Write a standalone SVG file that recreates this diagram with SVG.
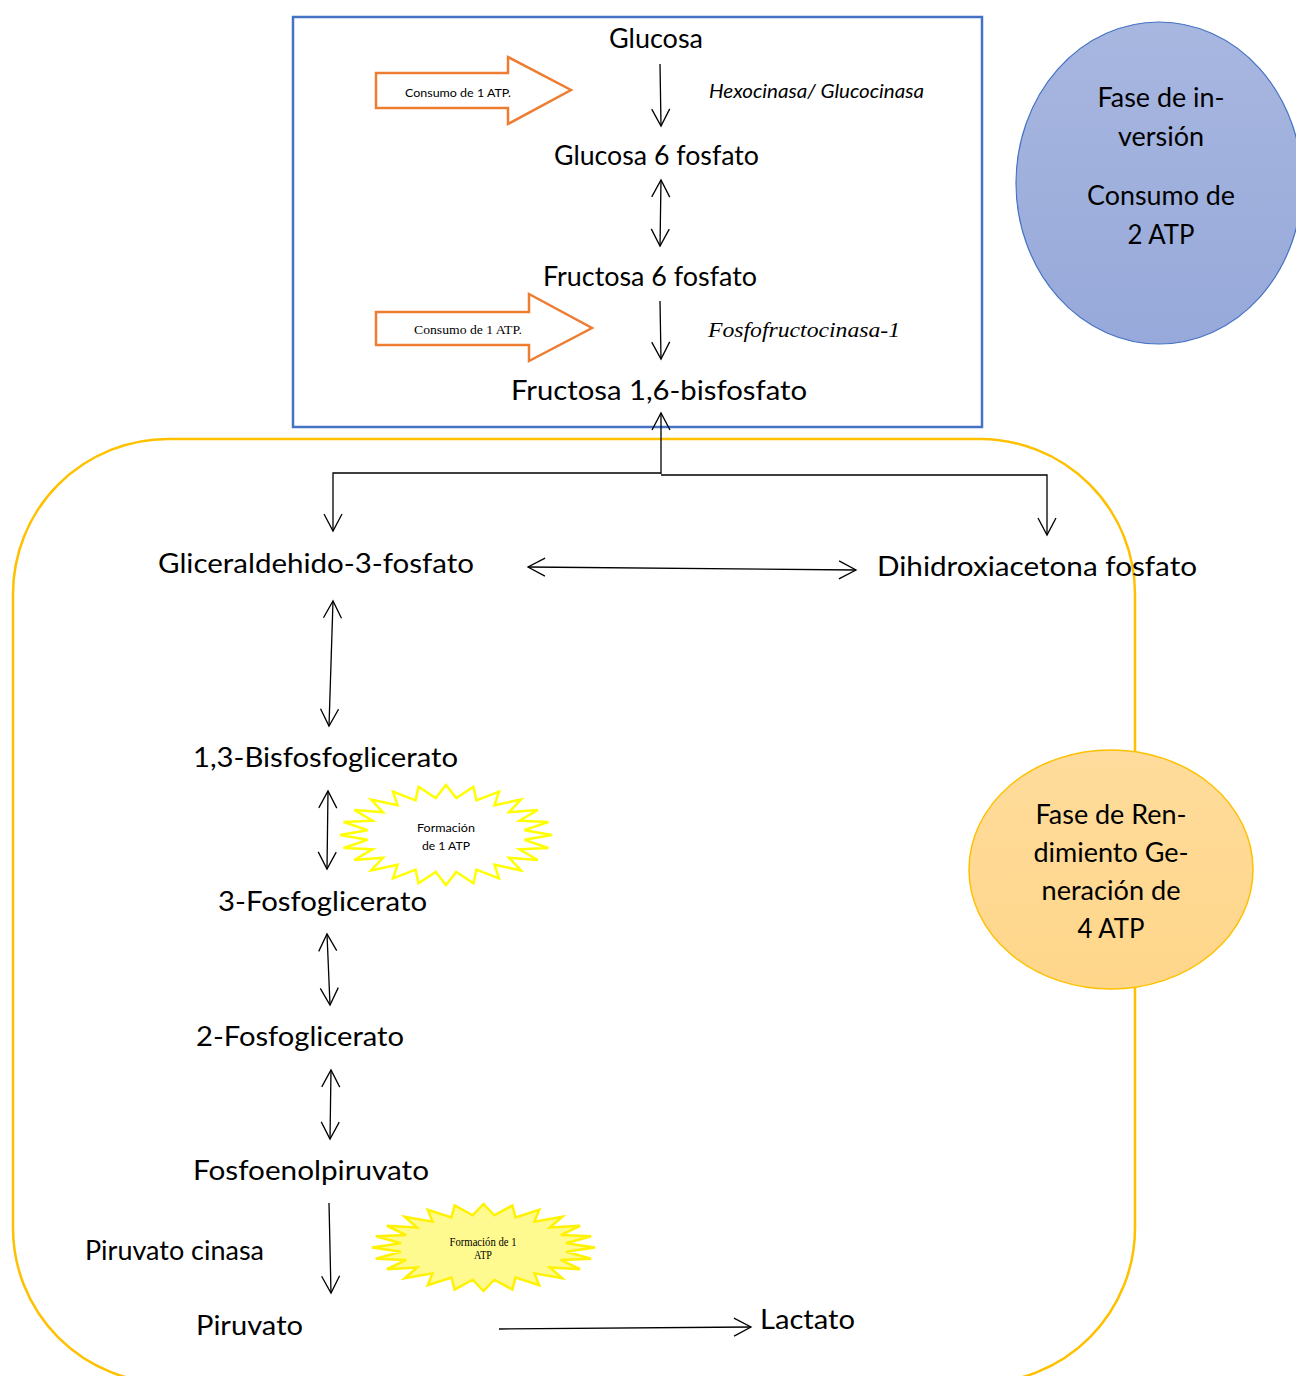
<svg xmlns="http://www.w3.org/2000/svg" xmlns:xlink="http://www.w3.org/1999/xlink" width="1296" height="1376" viewBox="0 0 1296 1376">
  <defs>
    <style>
      .lbl { font-family: Lato, "Open Sans", "Liberation Sans", sans-serif; font-size: 26px; fill: #000; text-anchor: middle; }
      .enz { font-family: Lato, "Liberation Sans", sans-serif; font-size: 19px; font-style: italic; fill: #000; }
      .enzs { font-family: "Liberation Serif", "DejaVu Serif", serif; font-size: 22px; font-style: italic; fill: #000; }
      .small { font-family: Lato, "Liberation Sans", sans-serif; font-size: 11.5px; fill: #000; text-anchor: middle; }
      .smalls { font-family: "Liberation Serif", "DejaVu Serif", serif; font-size: 12px; fill: #000; text-anchor: middle; }
      .conn { stroke: #000; stroke-width: 1.3; fill: none; }
      .block { fill: #fff; stroke: #ED7D31; stroke-width: 2.5; stroke-linejoin: miter; }
    </style>
    <marker id="head" markerUnits="userSpaceOnUse" markerWidth="24" markerHeight="24" viewBox="-20 -12 24 24" refX="0" refY="0" orient="auto-start-reverse">
      <path d="M-17,-9 L0,0 L-17,9" fill="none" stroke="#000" stroke-width="1.3"/>
    </marker>
    <!-- 24-point burst on a unit circle of radius 100; scaled per use -->
    <polygon id="burst" vector-effect="non-scaling-stroke" points="100,0 74,9.7 96.6,25.9 69.3,28.7 86.6,50 59.5,45.7 70.7,70.7 45.7,59.5 50,86.6 28.7,69.3 25.9,96.6 9.7,74 0,100 -9.7,74 -25.9,96.6 -28.7,69.3 -50,86.6 -45.7,59.5 -70.7,70.7 -59.5,45.7 -86.6,50 -69.3,28.7 -96.6,25.9 -74,9.7 -100,0 -74,-9.7 -96.6,-25.9 -69.3,-28.7 -86.6,-50 -59.5,-45.7 -70.7,-70.7 -45.7,-59.5 -50,-86.6 -28.7,-69.3 -25.9,-96.6 -9.7,-74 0,-100 9.7,-74 25.9,-96.6 28.7,-69.3 50,-86.6 45.7,-59.5 70.7,-70.7 59.5,-45.7 86.6,-50 69.3,-28.7 96.6,-25.9 74,-9.7"/>
  </defs>

  <rect width="1296" height="1376" fill="#fff"/>

  <!-- payoff phase frame -->
  <rect id="payoff-frame" x="13" y="439" width="1122" height="944" rx="155" ry="155" fill="none" stroke="#FFC000" stroke-width="2.5"/>

  <!-- investment phase frame -->
  <rect id="investment-frame" x="293" y="17" width="689" height="410" fill="none" stroke="#4472C4" stroke-width="2.5"/>

  <!-- phase summaries -->
  <g id="fase-inversion">
    <defs>
      <linearGradient id="blueFill" x1="0" y1="0" x2="0" y2="1">
        <stop offset="0" stop-color="#A8B7E0"/>
        <stop offset="1" stop-color="#97A9DA"/>
      </linearGradient>
      <linearGradient id="orangeFill" x1="0" y1="0" x2="0" y2="1">
        <stop offset="0" stop-color="#FFDC9C"/>
        <stop offset="1" stop-color="#FFD68A"/>
      </linearGradient>
    </defs>
    <ellipse cx="1159" cy="183" rx="143" ry="161" fill="url(#blueFill)" stroke="#4472C4" stroke-width="1.2"/>
    <text class="lbl" x="1161" y="107" textLength="127" lengthAdjust="spacingAndGlyphs">Fase de in-</text>
    <text class="lbl" x="1161" y="146" textLength="86" lengthAdjust="spacingAndGlyphs">versión</text>
    <text class="lbl" x="1161" y="205" textLength="148" lengthAdjust="spacingAndGlyphs">Consumo de</text>
    <text class="lbl" x="1161" y="244" textLength="67" lengthAdjust="spacingAndGlyphs">2 ATP</text>
  </g>

  <g id="fase-rendimiento">
    <ellipse cx="1111" cy="869.5" rx="142" ry="119.5" fill="url(#orangeFill)" stroke="#FFC000" stroke-width="1.5"/>
    <text class="lbl" x="1111" y="824" textLength="151" lengthAdjust="spacingAndGlyphs">Fase de Ren-</text>
    <text class="lbl" x="1111" y="862" textLength="155" lengthAdjust="spacingAndGlyphs">dimiento Ge-</text>
    <text class="lbl" x="1111" y="900" textLength="139" lengthAdjust="spacingAndGlyphs">neración de</text>
    <text class="lbl" x="1111" y="938" textLength="67" lengthAdjust="spacingAndGlyphs">4 ATP</text>
  </g>

  <!-- ATP consumption block arrows -->
  <g id="consumo-atp-1">
    <polygon class="block" points="376,73 508,73 508,57 571,90 508,124 508,108 376,108"/>
    <text class="small" x="458" y="97" textLength="106" lengthAdjust="spacingAndGlyphs">Consumo de 1 ATP.</text>
  </g>
  <g id="consumo-atp-2">
    <polygon class="block" points="376,312 529,312 529,294 592,328 529,361 529,345 376,345"/>
    <text class="smalls" x="468" y="334" textLength="108" lengthAdjust="spacingAndGlyphs">Consumo de 1 ATP.</text>
  </g>

  <!-- ATP formation bursts -->
  <g id="formacion-atp-1">
    <use xlink:href="#burst" href="#burst" transform="translate(446,835) scale(1.06,0.5)" fill="#fff" stroke="#FFFF00" stroke-width="2.5"/>
    <text class="small" x="446" y="832" font-size="11" textLength="58" lengthAdjust="spacingAndGlyphs">Formación</text>
    <text class="small" x="446" y="850" font-size="11" textLength="48" lengthAdjust="spacingAndGlyphs">de 1 ATP</text>
  </g>
  <g id="formacion-atp-2">
    <use xlink:href="#burst" href="#burst" transform="translate(483.5,1247.5) scale(1.115,0.435)" fill="#FFFA8F" stroke="#FFF200" stroke-width="2.5"/>
    <text class="smalls" x="483" y="1246" font-size="10" textLength="67" lengthAdjust="spacingAndGlyphs">Formación de 1</text>
    <text class="smalls" x="483" y="1259" font-size="10" textLength="18" lengthAdjust="spacingAndGlyphs">ATP</text>
  </g>

  <!-- connectors -->
  <g id="connectors" class="conn">
    <line x1="660" y1="64" x2="661" y2="126" marker-end="url(#head)"/>
    <line x1="661" y1="180" x2="660" y2="246" marker-start="url(#head)" marker-end="url(#head)"/>
    <line x1="660" y1="301" x2="661" y2="359" marker-end="url(#head)"/>
    <line x1="661" y1="474" x2="661" y2="413" marker-end="url(#head)"/>
    <polyline points="661,473 333,473 333,531" marker-end="url(#head)"/>
    <polyline points="661,475 1047,475 1047,535" marker-end="url(#head)"/>
    <line x1="528" y1="567" x2="856" y2="570" marker-start="url(#head)" marker-end="url(#head)"/>
    <line x1="333" y1="601" x2="329" y2="726" marker-start="url(#head)" marker-end="url(#head)"/>
    <line x1="328" y1="791" x2="327" y2="869" marker-start="url(#head)" marker-end="url(#head)"/>
    <line x1="327" y1="934" x2="330" y2="1005" marker-start="url(#head)" marker-end="url(#head)"/>
    <line x1="331" y1="1070" x2="330" y2="1139" marker-start="url(#head)" marker-end="url(#head)"/>
    <line x1="329" y1="1203" x2="331" y2="1293" marker-end="url(#head)"/>
    <line x1="499" y1="1329" x2="751" y2="1327" marker-end="url(#head)"/>
  </g>

  <!-- metabolites -->
  <g id="glucosa"><text class="lbl" x="656" y="48" textLength="94" lengthAdjust="spacingAndGlyphs">Glucosa</text></g>
  <g id="hexocinasa"><text class="enz" x="709" y="98" textLength="215" lengthAdjust="spacingAndGlyphs">Hexocinasa/ Glucocinasa</text></g>
  <g id="glucosa-6-fosfato"><text class="lbl" x="656.5" y="165" textLength="205" lengthAdjust="spacingAndGlyphs">Glucosa 6 fosfato</text></g>
  <g id="fructosa-6-fosfato"><text class="lbl" x="650" y="286" textLength="214" lengthAdjust="spacingAndGlyphs">Fructosa 6 fosfato</text></g>
  <g id="fosfofructocinasa"><text class="enzs" x="708" y="337" textLength="192" lengthAdjust="spacingAndGlyphs">Fosfofructocinasa-1</text></g>
  <g id="fructosa-1-6-bisfosfato"><text class="lbl" x="659" y="400" font-size="28" textLength="296" lengthAdjust="spacingAndGlyphs">Fructosa 1,6-bisfosfato</text></g>
  <g id="gliceraldehido-3-fosfato"><text class="lbl" x="316" y="573" textLength="316" lengthAdjust="spacingAndGlyphs">Gliceraldehido-3-fosfato</text></g>
  <g id="dihidroxiacetona-fosfato"><text class="lbl" x="1037" y="576" textLength="320" lengthAdjust="spacingAndGlyphs">Dihidroxiacetona fosfato</text></g>
  <g id="bisfosfoglicerato"><text class="lbl" x="325.5" y="767" textLength="265" lengthAdjust="spacingAndGlyphs">1,3-Bisfosfoglicerato</text></g>
  <g id="fosfoglicerato-3"><text class="lbl" x="322.5" y="911" textLength="209" lengthAdjust="spacingAndGlyphs">3-Fosfoglicerato</text></g>
  <g id="fosfoglicerato-2"><text class="lbl" x="300" y="1046" textLength="208" lengthAdjust="spacingAndGlyphs">2-Fosfoglicerato</text></g>
  <g id="fosfoenolpiruvato"><text class="lbl" x="311" y="1180" textLength="236" lengthAdjust="spacingAndGlyphs">Fosfoenolpiruvato</text></g>
  <g id="piruvato-cinasa"><text class="lbl" x="174.5" y="1260" font-size="25" textLength="179" lengthAdjust="spacingAndGlyphs">Piruvato cinasa</text></g>
  <g id="piruvato"><text class="lbl" x="249.5" y="1335" textLength="107" lengthAdjust="spacingAndGlyphs">Piruvato</text></g>
  <g id="lactato"><text class="lbl" x="807.5" y="1329" textLength="95" lengthAdjust="spacingAndGlyphs">Lactato</text></g>
</svg>
